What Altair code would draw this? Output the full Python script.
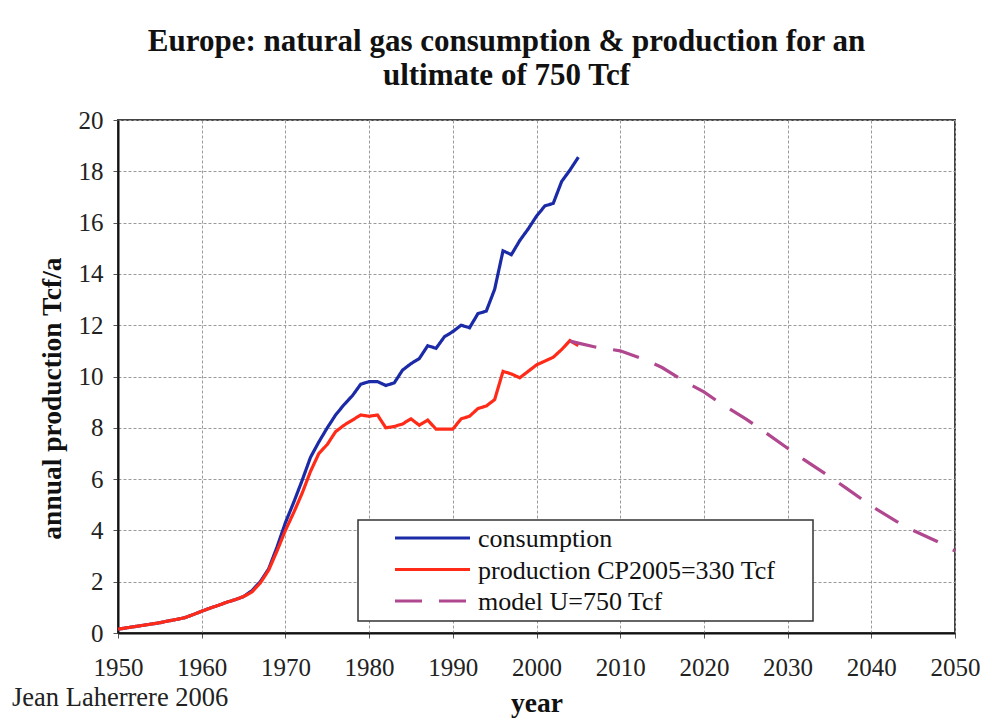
import altair as alt
import pandas as pd

# ---- data ----
hist_years = list(range(1950, 2006))
consumption = [0.15, 0.20, 0.25, 0.30, 0.35, 0.40, 0.47, 0.53, 0.60, 0.72,
               0.85, 0.97, 1.08, 1.20, 1.30, 1.42, 1.65, 2.00, 2.50, 3.35,
               4.30, 5.10, 5.95, 6.85, 7.45, 8.00, 8.50, 8.90, 9.25, 9.70,
               9.80, 9.80, 9.65, 9.75, 10.25, 10.50, 10.70, 11.20, 11.10, 11.55,
               11.75, 12.00, 11.90, 12.45, 12.55, 13.40, 14.90, 14.75, 15.30, 15.75,
               16.25, 16.65, 16.75, 17.60, 18.05, 18.55]
production = [0.15, 0.20, 0.25, 0.30, 0.35, 0.40, 0.47, 0.53, 0.60, 0.72,
              0.85, 0.97, 1.08, 1.20, 1.30, 1.42, 1.60, 1.95, 2.45, 3.20,
              4.00, 4.70, 5.45, 6.30, 7.00, 7.35, 7.85, 8.10, 8.30, 8.50,
              8.45, 8.50, 8.00, 8.05, 8.15, 8.35, 8.10, 8.30, 7.95, 7.95,
              7.95, 8.35, 8.45, 8.75, 8.85, 9.10, 10.20, 10.10, 9.95, 10.20,
              10.45, 10.60, 10.75, 11.05, 11.40, 11.20]
model_years = [2004, 2005, 2007, 2010, 2013, 2015, 2018, 2020, 2022, 2025,
               2027, 2030, 2032, 2035, 2037, 2040, 2043, 2045, 2048, 2050]
model_vals = [11.38, 11.30, 11.15, 11.00, 10.65, 10.35, 9.75, 9.40, 8.95, 8.35,
              7.90, 7.20, 6.75, 6.10, 5.65, 4.95, 4.35, 4.00, 3.55, 3.20]

series_names = ["consumption", "production CP2005=330 Tcf", "model U=750 Tcf"]
series_colors = ["#1b2aa6", "#ff2a18", "#b0478f"]
series_dashes = [[1, 0], [1, 0], [27, 17]]

x_ticks = list(range(1950, 2051, 10))
y_ticks = list(range(0, 21, 2))

title_lines = ["Europe: natural gas consumption & production for an",
               "ultimate of 750 Tcf"]
credit = "Jean Laherrere 2006"

rows = []
for yr, v in zip(hist_years, consumption):
    rows.append({"year": yr, "value": v, "series": series_names[0]})
for yr, v in zip(hist_years, production):
    rows.append({"year": yr, "value": v, "series": series_names[1]})
for yr, v in zip(model_years, model_vals):
    rows.append({"year": yr, "value": v, "series": series_names[2]})
df = pd.DataFrame(rows)

FONT = "Liberation Serif"

lines = alt.Chart(df).mark_line(strokeWidth=3.2).encode(
    x=alt.X("year:Q",
            scale=alt.Scale(domain=[1950, 2050], nice=False, zero=False),
            axis=alt.Axis(values=x_ticks, format="d", title="year",
                          labelFlush=False, labelOverlap=False,
                          tickSize=5, labelPadding=17, titlePadding=9)),
    y=alt.Y("value:Q",
            scale=alt.Scale(domain=[0, 20], nice=False),
            axis=alt.Axis(values=y_ticks, title="annual production Tcf/a",
                          labelFlush=False, labelOverlap=False,
                          tickSize=5, labelPadding=10, titlePadding=12,
                          titleY=278)),
    color=alt.Color("series:N", sort=series_names,
                    scale=alt.Scale(domain=series_names, range=series_colors),
                    legend=None),
    strokeDash=alt.StrokeDash("series:N", sort=series_names,
                              scale=alt.Scale(domain=series_names, range=series_dashes),
                              legend=None),
    order=alt.Order("year:Q"),
)

# ---- legend box drawn inside the plot (lower middle), like the reference ----
legend_box = alt.Chart(pd.DataFrame({"k": [0]})).mark_rect(
    fill="white", stroke="#333333", strokeWidth=1.5
).encode(x=alt.value(240), x2=alt.value(695), y=alt.value(400), y2=alt.value(501))

legend_layers = [legend_box]
row_y = [418, 449.5, 481]
for name, col, dash, ry in zip(series_names, series_colors, series_dashes, row_y):
    ldf = pd.DataFrame({"series": [name]})
    legend_layers.append(
        alt.Chart(ldf).mark_rule(strokeWidth=3, color=col, strokeDash=dash).encode(
            x=alt.value(277), x2=alt.value(352), y=alt.value(ry))
    )
    legend_layers.append(
        alt.Chart(ldf).mark_text(align="left", baseline="middle", font=FONT,
                                 fontSize=26, color="#111111").encode(
            text="series:N", x=alt.value(360), y=alt.value(ry + 1))
    )

credit_text = alt.Chart(pd.DataFrame({"t": [credit]})).mark_text(
    align="left", baseline="middle", font=FONT, fontSize=26.5, color="#222222"
).encode(text="t:N", x=alt.value(-106), y=alt.value(578))

chart = alt.layer(lines, *legend_layers, credit_text).properties(
    width=837, height=513,
    background="white",
    padding={"left": 4, "top": 18, "right": 5, "bottom": 2},
    title=alt.TitleParams(title_lines, font=FONT, fontSize=31, fontWeight="bold",
                          anchor="middle", dx=-30, offset=16, lineHeight=34,
                          color="#111111"),
).configure_view(
    stroke="#444444", strokeWidth=2
).configure_axis(
    labelFont=FONT, labelFontSize=25, labelColor="#222222",
    titleFont=FONT, titleFontSize=27.5, titleFontWeight="bold", titleColor="#111111",
    domainColor="#111111", domainWidth=2, tickColor="#555555",
    gridColor="#9a9a9a", gridDash=[3, 2], gridWidth=1,
)

chart.save("out.html", embed_options={"renderer": "svg", "actions": False})
